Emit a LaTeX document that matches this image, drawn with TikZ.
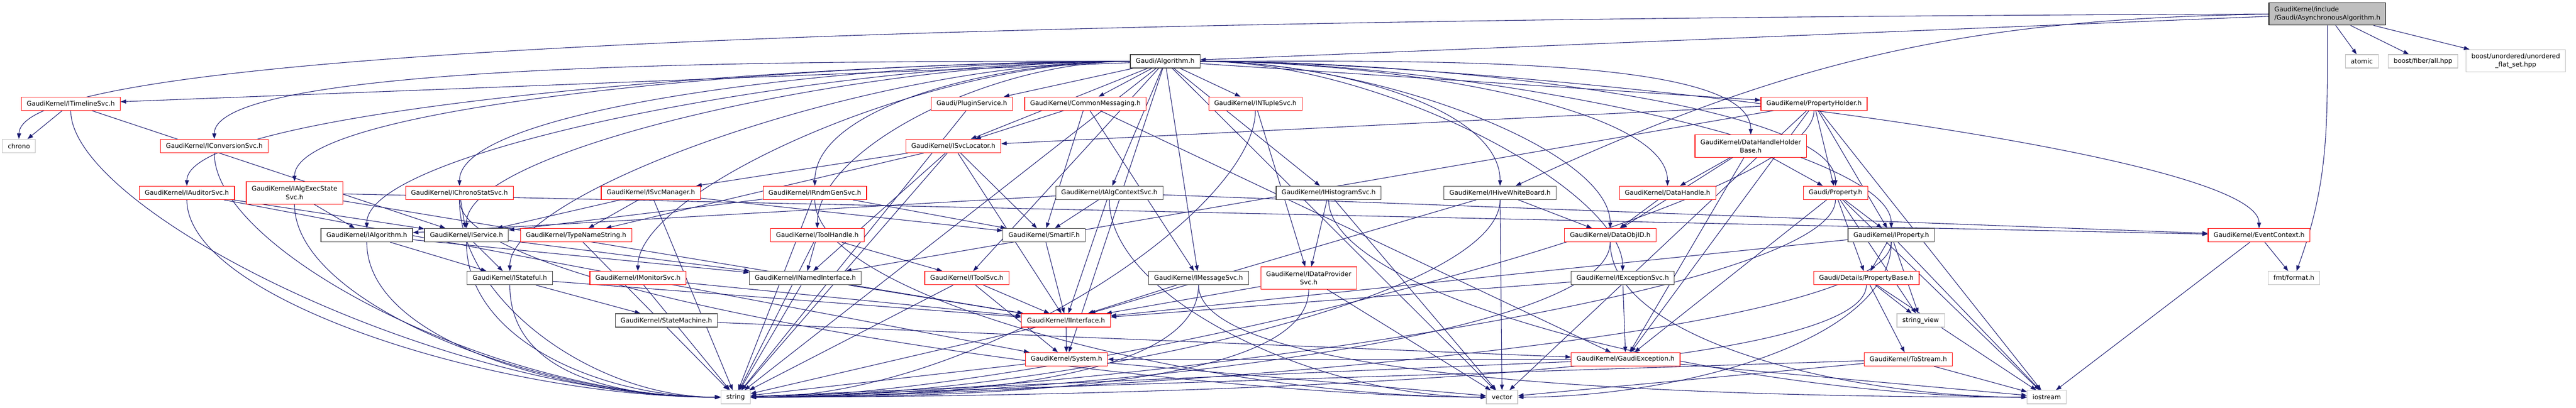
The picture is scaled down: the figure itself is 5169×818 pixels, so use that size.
\documentclass[tikz,border=0pt]{standalone}
\usepackage{fontspec}
\setmainfont{DejaVu Sans}
\usetikzlibrary{arrows.meta}
\definecolor{edgeblue}{HTML}{191970}
\definecolor{sysgrey}{HTML}{BFBFBF}
\definecolor{boxgrey}{HTML}{404040}

% all include files; placed twice, once for the names and once over the edges
\newcommand{\gaudinodes}{%
   % rank 0 and 1
   \node[incroot] (root)  at (4670,28)  {GaudiKernel/include\\/Gaudi/AsynchronousAlgorithm.h};
   \node[incfull] (algo)  at (2338,123)  {Gaudi/Algorithm.h};
   \node[incsys] (atomic)  at (4739,123)  {atomic};
   \node[incsys] (fiber)  at (4862,123)  {boost/fiber/all.hpp};
   \node[incsys,twoline] (uflat)  at (5048,122)  {boost/unordered/unordered\\\_flat\_set.hpp};
   % rank 2
   \node[inccut] (timeline)  at (142,208)  {GaudiKernel/ITimelineSvc.h};
   \node[inccut] (plugin)  at (1950,208)  {Gaudi/PluginService.h};
   \node[inccut] (commsg)  at (2178,208)  {GaudiKernel/CommonMessaging.h};
   \node[inccut] (ntuple)  at (2519,208)  {GaudiKernel/INTupleSvc.h};
   \node[inccut] (propholder)  at (3640,208)  {GaudiKernel/PropertyHolder.h};
   % rank 3
   \node[incsys] (chrono)  at (38,293)  {chrono};
   \node[inccut] (convsvc)  at (430,293)  {GaudiKernel/IConversionSvc.h};
   \node[inccut] (svcloc)  at (1913,293)  {GaudiKernel/ISvcLocator.h};
   \node[inccut,twoline] (dhholder)  at (3513,293)  {GaudiKernel/DataHandleHolder\\Base.h};
   % rank 4
   \node[inccut] (auditsvc)  at (375,387)  {GaudiKernel/IAuditorSvc.h};
   \node[inccut,twoline] (execsvc)  at (591,387)  {GaudiKernel/IAlgExecState\\Svc.h};
   \node[inccut] (chronosvc)  at (922,387)  {GaudiKernel/IChronoStatSvc.h};
   \node[inccut] (svcmgr)  at (1306,387)  {GaudiKernel/ISvcManager.h};
   \node[inccut] (rndmsvc)  at (1635,387)  {GaudiKernel/IRndmGenSvc.h};
   \node[incfull] (ctxsvc)  at (2226,387)  {GaudiKernel/IAlgContextSvc.h};
   \node[incfull] (histosvc)  at (2666,387)  {GaudiKernel/IHistogramSvc.h};
   \node[incfull] (whiteboard)  at (3010,387)  {GaudiKernel/IHiveWhiteBoard.h};
   \node[inccut] (dhandle)  at (3346,387)  {GaudiKernel/DataHandle.h};
   \node[inccut] (prop)  at (3683,387)  {Gaudi/Property.h};
   % rank 5
   \node[incfull] (ialg)  at (736,472)  {GaudiKernel/IAlgorithm.h};
   \node[incfull] (isvc)  at (936,472)  {GaudiKernel/IService.h};
   \node[inccut] (tnstring)  at (1156,472)  {GaudiKernel/TypeNameString.h};
   \node[inccut] (toolh)  at (1640,472)  {GaudiKernel/ToolHandle.h};
   \node[incfull] (smartif)  at (2095,472)  {GaudiKernel/SmartIF.h};
   \node[inccut] (objid)  at (3231,472)  {GaudiKernel/DataObjID.h};
   \node[incfull] (iprop)  at (3795,472)  {GaudiKernel/IProperty.h};
   \node[inccut] (evtctx)  at (4533,472)  {GaudiKernel/EventContext.h};
   % rank 6
   \node[incfull] (istate)  at (1023,558)  {GaudiKernel/IStateful.h};
   \node[inccut] (monsvc)  at (1280,558)  {GaudiKernel/IMonitorSvc.h};
   \node[incfull] (named)  at (1616,558)  {GaudiKernel/INamedInterface.h};
   \node[inccut] (toolsvc)  at (1940,558)  {GaudiKernel/IToolSvc.h};
   \node[incfull] (msgsvc)  at (2405,558)  {GaudiKernel/IMessageSvc.h};
   \node[inccut,twoline] (dpsvc)  at (2626,558)  {GaudiKernel/IDataProvider\\Svc.h};
   \node[incfull] (excsvc)  at (3256,558)  {GaudiKernel/IExceptionSvc.h};
   \node[inccut] (propbase)  at (3745,558)  {Gaudi/Details/PropertyBase.h};
   \node[incsys] (fmt)  at (4603,558)  {fmt/format.h};
   % rank 7 and 8
   \node[incfull] (statem)  at (1337,643)  {GaudiKernel/StateMachine.h};
   \node[inccut] (iiface)  at (2139,643)  {GaudiKernel/IInterface.h};
   \node[incsys] (strview)  at (3854,643)  {string\_view};
   \node[inccut] (system)  at (2140,721)  {GaudiKernel/System.h};
   \node[inccut] (gexc)  at (3262,721)  {GaudiKernel/GaudiException.h};
   \node[inccut] (tostream)  at (3829,721)  {GaudiKernel/ToStream.h};
   % system headers at the bottom
   \node[incsys] (string)  at (1476,797)  {string};
   \node[incsys] (vector)  at (3014,797)  {vector};
   \node[incsys] (iostream)  at (4107,797)  {iostream};
}

\begin{document}
% one unit is a quarter point, the picture is laid out in reference pixels
\begin{tikzpicture}[x=0.25pt, y=-0.25pt,
    inc/.style ={rectangle, draw, line width=0.3pt, fill=white, text=black, inner xsep=2.75pt,
                 inner ysep=0.75pt, minimum height=6.75pt, font=\fontsize{3.225}{4.175}\selectfont},
    inccut/.style ={inc, draw=red},
    incfull/.style ={inc, draw=boxgrey},
    incsys/.style ={inc, draw=sysgrey},
    incroot/.style ={inc, draw=black, fill=sysgrey, align=left, minimum height=11.25pt},
    twoline/.style ={align=center, minimum height=11.25pt},
    dep/.style ={color=edgeblue, line width=0.28pt, -{Triangle[length=2.75pt,width=2pt]}},
    algl/.style ={out=180, in=90, out max distance=150pt, in max distance=40pt},
    algr/.style ={out=0, in=90, out max distance=150pt, in max distance=40pt},
    tobotl/.style ={out=-90, in=180, out max distance=50pt, in max distance=150pt},
    tobotr/.style ={out=-90, in=0, out max distance=50pt, in max distance=150pt}]
   \useasboundingbox (0,0) rectangle (5169,818);

   \gaudinodes

   % the file itself
   \draw[dep] (root.west) .. controls (1400,40) and (40,120) .. (chrono.north);
   \draw[dep] (root) to (algo);
   \draw[dep] (root) to[bend right=12] (whiteboard);
   \draw[dep] (root) to (atomic);
   \draw[dep] (root) to (fiber);
   \draw[dep] (root) to (uflat);
   \draw[dep] (root) to[out=-90,in=70] (fmt);

   % Gaudi/Algorithm.h
   \draw[dep] (algo) to (plugin);
   \draw[dep] (algo) to (commsg);
   \draw[dep] (algo) to (ntuple);
   \draw[dep] (algo) to (timeline);
   \draw[dep] (algo) to[algl] (convsvc);
   \draw[dep] (algo) to (svcloc);
   \draw[dep] (algo) to[algl] (auditsvc);
   \draw[dep] (algo) to[algl] (execsvc);
   \draw[dep] (algo) to[algl] (chronosvc);
   \draw[dep] (algo) to[algl] (rndmsvc);
   \draw[dep] (algo) to (ctxsvc);
   \draw[dep] (algo) to[algl] (ialg);
   \draw[dep] (algo) to[algl] (isvc);
   \draw[dep] (algo) to[algl] (toolh);
   \draw[dep] (algo) to[algl] (istate);
   \draw[dep] (algo) to[algl] (monsvc);
   \draw[dep] (algo) to (toolsvc);
   \draw[dep] (algo) to (msgsvc);
   \draw[dep] (algo) to (system);
   \draw[dep] (algo) to (string);
   \draw[dep] (algo) to (histosvc);
   \draw[dep] (algo) to[algr] (whiteboard);
   \draw[dep] (algo) to[algr] (dhandle);
   \draw[dep] (algo) to[algr] (prop);
   \draw[dep] (algo) to[algr] (dhholder);
   \draw[dep] (algo) to (propholder);
   \draw[dep] (algo) to[algr] (objid);
   \draw[dep] (algo) to[algr] (iprop);
   \draw[dep] (algo) to[algr] (evtctx);
   \draw[dep] (algo) to[algr] (excsvc);
   \draw[dep] (algo) to (vector);

   % rank 2 and 3
   \draw[dep] (timeline) to (chrono);
   \draw[dep] (timeline) to (isvc);
   \draw[dep] (timeline) to[tobotl] (string);
   \draw[dep] (convsvc) to[tobotl] (string);
   \draw[dep] (plugin) to (string);
   \draw[dep] (commsg) to (svcloc);
   \draw[dep] (commsg) to (smartif);
   \draw[dep] (commsg) to (msgsvc);
   \draw[dep] (commsg) to (gexc);
   \draw[dep] (ntuple) to (dpsvc);
   \draw[dep] (ntuple) to[tobotr] (string);
   \draw[dep] (propholder) to (prop);
   \draw[dep] (propholder) to (iprop);
   \draw[dep] (propholder) to (svcloc);
   \draw[dep] (propholder) to (named);
   \draw[dep] (propholder) to (gexc);
   \draw[dep] (propholder) to (iostream);
   \draw[dep] (propholder) to (vector);
   \draw[dep] (propholder) to[tobotr] (string);
   \draw[dep] (svcloc) to (svcmgr);
   \draw[dep] (svcloc) to (tnstring);
   \draw[dep] (svcloc) to (smartif);
   \draw[dep] (svcloc) to (named);
   \draw[dep] (svcloc) to (iiface);
   \draw[dep] (svcloc) to (string);
   \draw[dep] (dhholder) to (dhandle);
   \draw[dep] (dhholder) to (objid);
   \draw[dep] (dhholder) to (prop);
   \draw[dep] (dhholder) to (gexc);

   % rank 4
   \draw[dep] (auditsvc) to (isvc);
   \draw[dep] (auditsvc) to (system);
   \draw[dep] (auditsvc) to[tobotl] (string);
   \draw[dep] (execsvc) to (ialg);
   \draw[dep] (execsvc) to (evtctx);
   \draw[dep] (execsvc) to (iiface);
   \draw[dep] (execsvc) to[tobotl] (string);
   \draw[dep] (chronosvc) to (isvc);
   \draw[dep] (chronosvc) to[tobotl] (string);
   \draw[dep] (chronosvc) to[tobotl] (vector);
   \draw[dep] (svcmgr) to (isvc);
   \draw[dep] (svcmgr) to (tnstring);
   \draw[dep] (svcmgr) to (smartif);
   \draw[dep] (svcmgr) to (string);
   \draw[dep] (rndmsvc) to (isvc);
   \draw[dep] (rndmsvc) to (smartif);
   \draw[dep] (rndmsvc) to (string);
   \draw[dep] (rndmsvc) to[tobotl] (vector);
   \draw[dep] (ctxsvc) to (ialg);
   \draw[dep] (ctxsvc) to (smartif);
   \draw[dep] (ctxsvc) to (iiface);
   \draw[dep] (ctxsvc) to (evtctx);
   \draw[dep] (ctxsvc) to[tobotl] (vector);
   \draw[dep] (histosvc) to (dpsvc);
   \draw[dep] (histosvc) to (vector);
   \draw[dep] (histosvc) to[tobotl] (iostream);
   \draw[dep] (whiteboard) to (objid);
   \draw[dep] (whiteboard) to (iiface);
   \draw[dep] (whiteboard) to (vector);
   \draw[dep] (whiteboard) to[tobotr] (string);
   \draw[dep] (dhandle) to (objid);
   \draw[dep] (prop) to (iprop);
   \draw[dep] (prop) to (propbase);
   \draw[dep] (prop) to (gexc);
   \draw[dep] (prop) to (strview);
   \draw[dep] (prop) to (iostream);
   \draw[dep] (prop) to[tobotr] (string);

   % rank 5
   \draw[dep] (ialg) to (named);
   \draw[dep] (ialg) to (istate);
   \draw[dep] (ialg) to[tobotl] (string);
   \draw[dep] (isvc) to (named);
   \draw[dep] (isvc) to (istate);
   \draw[dep] (isvc) to[tobotl] (string);
   \draw[dep] (tnstring) to (string);
   \draw[dep] (toolh) to (named);
   \draw[dep] (toolh) to (toolsvc);
   \draw[dep] (toolh) to (string);
   \draw[dep] (smartif) to (iiface);
   \draw[dep] (objid) to[tobotr] (string);
   \draw[dep] (objid) to[tobotl] (iostream);
   \draw[dep] (iprop) to (propbase);
   \draw[dep] (iprop) to (strview);
   \draw[dep] (iprop) to (iiface);
   \draw[dep] (iprop) to (iostream);
   \draw[dep] (iprop) to[tobotr] (vector);
   \draw[dep] (iprop) to[tobotr] (string);
   \draw[dep] (evtctx) to (fmt);
   \draw[dep] (evtctx) to (iostream);

   % rank 6
   \draw[dep] (istate) to (statem);
   \draw[dep] (istate) to (iiface);
   \draw[dep] (istate) to[tobotl] (string);
   \draw[dep] (monsvc) to (iiface);
   \draw[dep] (monsvc) to (string);
   \draw[dep] (named) to (iiface);
   \draw[dep] (named) to (string);
   \draw[dep] (toolsvc) to (iiface);
   \draw[dep] (toolsvc) to (system);
   \draw[dep] (toolsvc) to (string);
   \draw[dep] (msgsvc) to (iiface);
   \draw[dep] (msgsvc) to[tobotr] (string);
   \draw[dep] (msgsvc) to[tobotl] (iostream);
   \draw[dep] (dpsvc) to (iiface);
   \draw[dep] (dpsvc) to (vector);
   \draw[dep] (dpsvc) to[tobotr] (string);
   \draw[dep] (excsvc) to (iiface);
   \draw[dep] (excsvc) to (gexc);
   \draw[dep] (propbase) to (strview);
   \draw[dep] (propbase) to (tostream);
   \draw[dep] (propbase) to (iostream);
   \draw[dep] (propbase) to[tobotr] (string);

   % rank 7 and 8
   \draw[dep] (statem) to (gexc);
   \draw[dep] (iiface) to (system);
   \draw[dep] (iiface) to (string);
   \draw[dep] (system) to (string);
   \draw[dep] (system) to (vector);
   \draw[dep] (gexc) to (system);
   \draw[dep] (gexc) to (string);
   \draw[dep] (gexc) to (iostream);
   \draw[dep] (tostream) to (string);
   \draw[dep] (tostream) to (vector);
   \draw[dep] (tostream) to (iostream);

   % boxes again, over the edges
   \gaudinodes
\end{tikzpicture}
\end{document}
